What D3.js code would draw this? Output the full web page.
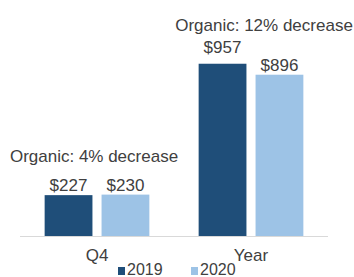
<!DOCTYPE html>
<html>
<head>
<meta charset="utf-8">
<script src="https://cdn.jsdelivr.net/npm/d3@7"></script>
<style>
  body { margin: 0; background: #fff; }
  text { font-family: "Liberation Sans", Arial, sans-serif; fill: #404040; }
</style>
</head>
<body>
<svg id="chart" width="354" height="277"></svg>
<script>
var categories = ["Q4", "Year"];
var series = ["2019", "2020"];
var values2019 = [227, 957];
var values2020 = [230, 896];
var notes = ["Organic: 4% decrease", "Organic: 12% decrease"];

var colors = d3.scaleOrdinal()
	.domain(series)
	.range(["#1f4e79", "#9dc3e6"]);

var width = 354, height = 277,
	axisLeft = 20, axisRight = 328, baseY = 236;

var svg = d3.select("#chart");

var x0 = d3.scaleBand()
	.domain(categories)
	.range([axisLeft, axisRight])
	.paddingInner(0.32)
	.paddingOuter(0.16);

var x1 = d3.scaleBand()
	.domain(series)
	.range([0, x0.bandwidth()])
	.paddingInner(0.16);

var y = d3.scaleLinear()
	.domain([0, 1000])
	.range([baseY, 56]);

var rows = categories.map(function(c, i) {
	return {cat: c, note: notes[i], vals: [
		{key: "2019", value: values2019[i]},
		{key: "2020", value: values2020[i]}
	]};
});

var groups = svg.selectAll(".group")
	.data(rows)
	.enter()
	.append("g")
	.attr("class", "group")
	.attr("transform", function(d) { return "translate(" + x0(d.cat) + ",0)"; });

groups.selectAll("rect")
	.data(function(d) { return d.vals; })
	.enter()
	.append("rect")
	.attr("x", function(d) { return x1(d.key); })
	.attr("y", function(d) { return y(d.value); })
	.attr("width", x1.bandwidth())
	.attr("height", function(d) { return baseY - y(d.value); })
	.attr("fill", function(d) { return colors(d.key); });

groups.selectAll(".val")
	.data(function(d) { return d.vals; })
	.enter()
	.append("text")
	.attr("class", "val")
	.attr("x", function(d) { return x1(d.key) + x1.bandwidth() / 2; })
	.attr("y", function(d) {
		// the big year label sits a bit higher in the original
		return y(d.value) - (d.value > 900 && d.key == "2019" ? 11 : 4);
	})
	.attr("text-anchor", "middle")
	.style("font-size", "17px")
	.text(function(d) { return "$" + d.value; });

// annotation above each group
groups.append("text")
	.attr("x", function(d, i) { return x0.bandwidth() / 2 + (i == 0 ? -3 : 13); })
	.attr("y", function(d) { return y(d3.max(d.vals, function(v) { return v.value; })) - 33; })
	.attr("text-anchor", "middle")
	.style("font-size", "17px")
	.text(function(d) { return d.note; });

// baseline
svg.append("line")
	.attr("x1", axisLeft)
	.attr("x2", axisRight)
	.attr("y1", baseY + 0.5)
	.attr("y2", baseY + 0.5)
	.attr("stroke", "#d9d9d9")
	.attr("stroke-width", 1);

svg.selectAll(".cat")
	.data(categories)
	.enter()
	.append("text")
	.attr("class", "cat")
	.attr("x", function(d) { return x0(d) + x0.bandwidth() / 2; })
	.attr("y", 261)
	.attr("text-anchor", "middle")
	.style("font-size", "17px")
	.text(function(d) { return d; });

// legend
var legend = svg.selectAll(".legend")
	.data(series)
	.enter()
	.append("g")
	.attr("class", "legend")
	.attr("transform", function(d, i) { return "translate(" + (118 + i * 73) + ",0)"; });

legend.append("rect")
	.attr("x", 0)
	.attr("y", 267)
	.attr("width", 7)
	.attr("height", 8)
	.attr("fill", function(d) { return colors(d); });

legend.append("text")
	.attr("x", 9)
	.attr("y", 275)
	.style("font-size", "16px")
	.text(function(d) { return d; });
</script>
</body>
</html>
